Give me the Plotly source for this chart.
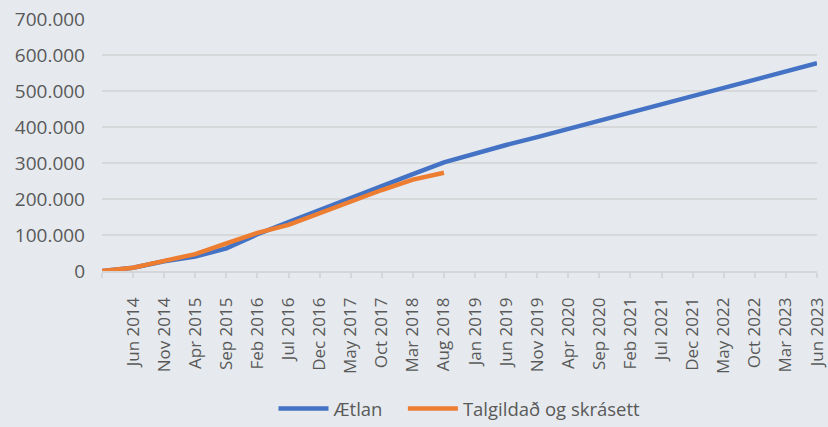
import plotly.graph_objects as go

# Category labels (first point is unlabeled on the axis)
categories = ["Jan 2014", "Jun 2014", "Nov 2014", "Apr 2015", "Sep 2015", "Feb 2016",
              "Jul 2016", "Dec 2016", "May 2017", "Oct 2017", "Mar 2018", "Aug 2018",
              "Jan 2019", "Jun 2019", "Nov 2019", "Apr 2020", "Sep 2020", "Feb 2021",
              "Jul 2021", "Dec 2021", "May 2022", "Oct 2022", "Mar 2023", "Jun 2023"]
tick_labels = [""] + categories[1:]
series_names = ["Ætlan", "Talgildað og skrásett"]

aetlan = [0, 9000, 27000, 40000, 63000, 102000, 136000, 170000, 203000, 236000,
          269000, 302000, 327000, 350000, 372000, 395000, 417000, 440000, 463000,
          486000, 509000, 532000, 554000, 577000]
talgilt = [0, 9000, 28000, 47000, 77000, 106000, 128000, 161000, 192000, 225000,
           254000, 273000]

idx = list(range(len(categories)))

fig = go.Figure()
fig.add_trace(go.Scatter(x=idx, y=aetlan, mode="lines",
                         name=series_names[0] + "\u00a0\u00a0\u00a0",
                         line=dict(color="#4472C4", width=4.5)))
fig.add_trace(go.Scatter(x=idx[:len(talgilt)], y=talgilt, mode="lines",
                         name=series_names[1],
                         line=dict(color="#ED7D31", width=4.5)))

bg = "#e6eaee"
fig.update_layout(
    width=828, height=427,
    margin=dict(l=102, r=11, t=19, b=156, autoexpand=False),
    paper_bgcolor=bg, plot_bgcolor=bg,
    separators=",.",
    font=dict(family="Open Sans, Lato, sans-serif", color="#595959", size=17),
    showlegend=True,
    legend=dict(orientation="h", x=0.5, xanchor="center",
                yref="container", y=0.042, yanchor="middle",
                font=dict(size=18.5, color="#595959"), bgcolor="rgba(0,0,0,0)",
                itemwidth=50),
    xaxis=dict(
        type="linear", range=[0, len(categories) - 1],
        tickmode="array", tickvals=idx, ticktext=tick_labels,
        tickangle=-90, showgrid=False, zeroline=False,
        showline=True, linecolor="#d4d6d9", linewidth=1.5,
        ticks="outside", ticklen=5, tickcolor="#d4d6d9", tickwidth=1.5,
        ticklabelstandoff=13,
        tickfont=dict(size=17, color="#595959"),
    ),
    yaxis=dict(
        range=[0, 700000], tickmode="linear", dtick=100000, tickformat=",d",
        showgrid=True, gridcolor="#d6d8da", gridwidth=1.5,
        zeroline=False, showline=False, ticks="",
        ticklabelstandoff=16,
        tickfont=dict(size=19, color="#595959"),
    ),
)

fig.write_html("out.html", config={"displayModeBar": False},
               post_script="document.body.style.margin='0';document.body.style.background='%s';" % bg)
